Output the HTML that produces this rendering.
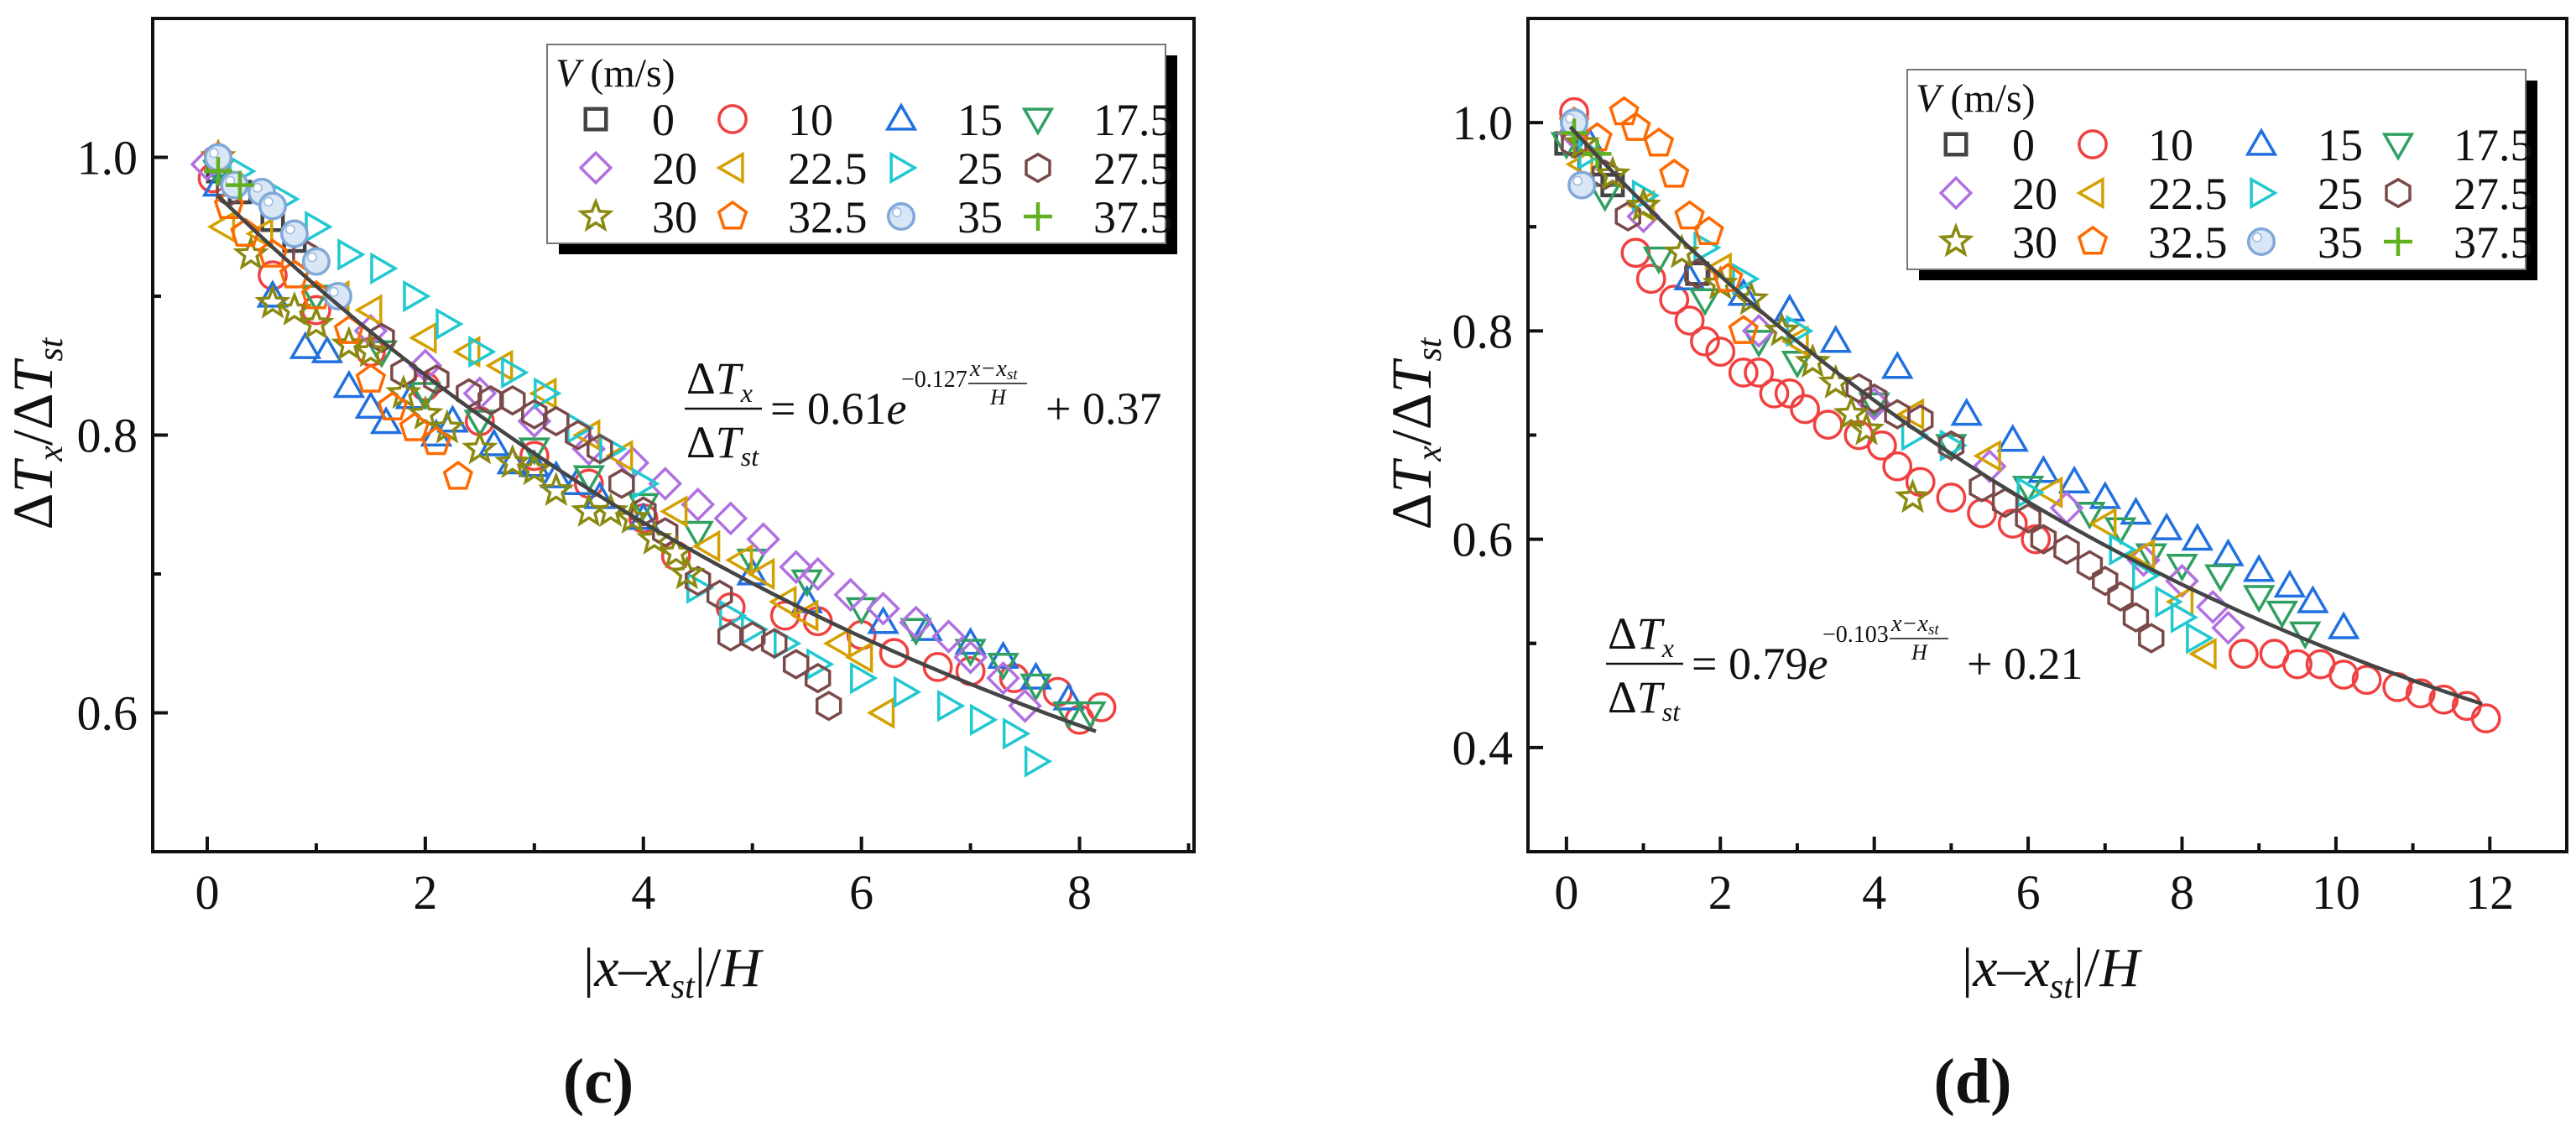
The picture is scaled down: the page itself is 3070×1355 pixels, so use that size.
<!DOCTYPE html>
<html><head><meta charset="utf-8"><style>
html,body{margin:0;padding:0;background:#fff;}
svg, svg text{font-family:"Liberation Serif","DejaVu Serif","Times New Roman",serif;}
</style></head><body>
<svg id="fig" width="3070" height="1350" viewBox="0 0 3070 1350" xmlns="http://www.w3.org/2000/svg" font-family="Liberation Serif, DejaVu Serif, serif"></svg>
<script>
// ---------- data: panel c ----------
const labelsV = ["0","10","15","17.5","20","22.5","25","27.5","30","32.5","35","37.5"];
const c_x0=[0.1,0.3,0.6,0.8], c_y0=[0.99,0.975,0.955,0.94];
const c_x10=[0.05,0.6,1.0,1.5,2.0,2.5,3.0,3.5,4.0,4.3,4.8,5.3,5.6,6.0,6.3,6.7,7.0,7.4,7.8,8.0,8.2];
const c_y10=[0.985,0.915,0.89,0.86,0.835,0.81,0.785,0.765,0.74,0.713,0.676,0.67,0.666,0.656,0.643,0.633,0.63,0.625,0.615,0.595,0.604];
const c_x15=[0.1,0.6,0.9,1.1,1.3,1.5,1.64,1.87,2.1,2.25,2.63,2.8,3.0,3.2,3.39,3.6,4.0,5.0,5.5,6.2,6.6,7.0,7.3,7.6,7.9];
const c_y15=[0.98,0.90,0.863,0.86,0.835,0.82,0.809,0.827,0.80,0.81,0.793,0.78,0.778,0.77,0.765,0.755,0.74,0.70,0.68,0.665,0.66,0.65,0.64,0.625,0.61];
const c_x17=[0.1,1.0,1.6,2.0,2.5,3,3.5,4,4.5,5,5.5,6,6.5,7,7.3,7.6,7.9,8.1];
const c_y17=[0.99,0.90,0.86,0.83,0.81,0.79,0.77,0.75,0.73,0.71,0.695,0.675,0.66,0.645,0.635,0.62,0.60,0.60];
const c_x20=[0,1.5,2,2.5,3,3.5,3.9,4.2,4.5,4.8,5.1,5.4,5.6,5.9,6.2,6.5,6.8,7.0,7.3,7.5];
const c_y20=[0.995,0.875,0.85,0.83,0.81,0.79,0.78,0.765,0.75,0.74,0.725,0.705,0.70,0.685,0.675,0.665,0.655,0.64,0.625,0.605];
const c_x22=[0.15,0.5,1.2,1.5,2.0,2.4,2.7,3.1,3.5,3.8,4.3,4.6,4.9,5.1,5.3,5.5,5.8,6.0,6.2];
const c_y22=[0.95,0.945,0.90,0.89,0.87,0.86,0.85,0.83,0.80,0.785,0.745,0.72,0.71,0.70,0.68,0.67,0.65,0.64,0.60];
const c_x25=[0.3,0.7,1.0,1.3,1.6,1.9,2.2,2.5,2.8,3.1,3.4,3.7,4.0,4.5,4.8,5.0,5.3,5.6,6.0,6.4,6.8,7.1,7.4,7.6];
const c_y25=[0.99,0.97,0.95,0.93,0.92,0.90,0.88,0.86,0.845,0.83,0.805,0.79,0.765,0.69,0.67,0.66,0.65,0.635,0.625,0.615,0.605,0.595,0.585,0.565];
const c_x27=[0.2,0.9,1.6,1.8,2.1,2.4,2.6,2.8,3.0,3.2,3.4,3.6,3.8,4.0,4.2,4.5,4.7,4.8,5.0,5.2,5.4,5.6,5.7];
const c_y27=[0.975,0.93,0.87,0.845,0.84,0.83,0.825,0.825,0.815,0.81,0.80,0.79,0.765,0.745,0.73,0.695,0.685,0.655,0.655,0.65,0.635,0.625,0.605];
const c_x30=[0.1,0.4,0.6,0.8,1.0,1.3,1.5,1.8,2.0,2.2,2.5,2.8,3.0,3.2,3.5,3.7,3.9,4.1,4.3,4.4];
const c_y30=[1.0,0.93,0.895,0.89,0.88,0.865,0.86,0.83,0.815,0.805,0.79,0.78,0.775,0.76,0.745,0.745,0.74,0.725,0.715,0.70];
const c_x32=[0.1,0.2,0.35,0.6,0.8,1.0,1.3,1.5,1.7,1.9,2.1,2.3];
const c_y32=[1.0,0.965,0.945,0.93,0.915,0.90,0.875,0.84,0.82,0.805,0.795,0.77];
const c_x35=[0.1,0.25,0.5,0.6,0.8,1.0,1.2], c_y35=[1.0,0.98,0.975,0.965,0.945,0.925,0.90];
const c_x37=[0.1,0.3], c_y37=[0.99,0.98];
const c_fit=[0.61,-0.127,0.37];
// ---------- data: panel d ----------
const d_x0=[0.0,0.3,0.6,1.7], d_y0=[0.98,0.96,0.94,0.855];
const d_x10=[0.1,0.9,1.1,1.4,1.6,1.8,2.0,2.3,2.5,2.7,2.9,3.1,3.4,3.8,4.1,4.3,4.6,5.0,5.4,5.8,6.1,8.8,9.2,9.5,9.8,10.1,10.4,10.8,11.1,11.4,11.7,11.95];
const d_y10=[1.01,0.875,0.85,0.83,0.81,0.79,0.78,0.76,0.76,0.74,0.74,0.725,0.71,0.70,0.69,0.67,0.655,0.64,0.625,0.615,0.60,0.49,0.49,0.48,0.48,0.47,0.465,0.458,0.452,0.446,0.44,0.428];
const d_x15=[0.1,0.3,1.6,2.3,2.9,3.5,4.3,5.2,5.8,6.2,6.6,7.0,7.4,7.8,8.2,8.6,9.0,9.4,9.7,10.1];
const d_y15=[1.0,0.98,0.85,0.835,0.82,0.79,0.765,0.72,0.695,0.665,0.655,0.64,0.625,0.61,0.60,0.585,0.57,0.555,0.54,0.515];
const d_x17=[0.0,0.5,1.2,1.8,2.5,3.0,4.0,5.0,6.0,6.8,7.2,7.6,8.0,8.5,9.0,9.3,9.6];
const d_y17=[0.98,0.93,0.87,0.83,0.79,0.77,0.73,0.69,0.65,0.625,0.61,0.585,0.575,0.565,0.545,0.53,0.51];
const d_x20=[0.1,1,2.5,4.0,5.5,6.5,7.5,8.0,8.4,8.6], d_y20=[0.99,0.91,0.80,0.73,0.67,0.63,0.58,0.56,0.535,0.515];
const d_x22=[0.2,1,2,3,4.5,5.5,6.3,7,7.5,8.0,8.3], d_y22=[0.96,0.92,0.86,0.79,0.72,0.68,0.645,0.615,0.585,0.54,0.49];
const d_x25=[0.3,1.0,1.8,2.3,3,4.5,5.0,6,7.2,7.5,7.8,8.0,8.2], d_y25=[0.97,0.93,0.88,0.85,0.80,0.70,0.69,0.645,0.59,0.565,0.54,0.525,0.505];
const d_x27=[0.1,0.5,0.8,1.7,3.8,4.0,4.3,4.6,5.0,5.4,5.7,6.0,6.2,6.5,6.8,7.0,7.2,7.4,7.6];
const d_y27=[0.98,0.95,0.91,0.855,0.745,0.735,0.72,0.715,0.69,0.65,0.635,0.62,0.60,0.59,0.575,0.56,0.545,0.525,0.505];
const d_x30=[0.2,0.6,1.0,1.5,2.0,2.4,2.8,3.2,3.5,3.7,3.9,4.5], d_y30=[0.98,0.95,0.92,0.875,0.845,0.83,0.80,0.77,0.75,0.72,0.705,0.64];
const d_x32=[0.1,0.4,0.75,0.9,1.2,1.4,1.6,1.85,2.1,2.3], d_y32=[1.0,0.985,1.01,0.995,0.98,0.95,0.91,0.895,0.85,0.80];
const d_x35=[0.1,0.2], d_y35=[1.0,0.94];
const d_x37=[0.1,0.4], d_y37=[0.99,0.97];
const d_fit=[0.79,-0.103,0.21];
// ticks
const c_xticks=["0","2","4","6","8"], c_yticks=["0.6","0.8","1.0"];
const d_xticks=["0","2","4","6","8","10","12"], d_yticks=["0.4","0.6","0.8","1.0"];

const NS="http://www.w3.org/2000/svg";
const svg=document.getElementById('fig');
const FF='Liberation Serif, DejaVu Serif, serif';
function mk(tag,attrs,parent){const e=document.createElementNS(NS,tag);for(const k in attrs)e.setAttribute(k,attrs[k]);if(tag==='text')e.setAttribute('font-family',FF);(parent||svg).appendChild(e);return e;}
const colors=["#444444","#f04040","#2070e0","#30a060","#b070e0","#d4a000","#20c8d0","#7a4a4a","#8a8a10","#ff6a00","#80a8d8","#60b020"];
const shapes=["square","circle","tri","tridown","diamond","trileft","triright","hex","star","pent","sphere","plus"];
function marker(g,shape,cx,cy,col,r){
  let e;
  const poly=(pts)=>mk('polygon',{points:pts.map(p=>(cx+p[0]*r).toFixed(1)+','+(cy+p[1]*r).toFixed(1)).join(' '),fill:'none',stroke:col,'stroke-width':3.5},g);
  const reg=(n,rot,rr)=>{const p=[];for(let i=0;i<n;i++){const a=rot+i*2*Math.PI/n;p.push([rr*Math.cos(a),rr*Math.sin(a)]);}return p;};
  if(shape==='square')e=mk('rect',{x:cx-r*0.72,y:cy-r*0.72,width:r*1.44,height:r*1.44,fill:'none',stroke:col,'stroke-width':4.5},g);
  else if(shape==='circle')e=mk('circle',{cx:cx,cy:cy,r:r*0.95,fill:'none',stroke:col,'stroke-width':3.5},g);
  else if(shape==='tri')e=poly(reg(3,-Math.PI/2,1.1).map(p=>[p[0],p[1]+0.15]));
  else if(shape==='tridown')e=poly(reg(3,Math.PI/2,1.1).map(p=>[p[0],p[1]-0.15]));
  else if(shape==='trileft')e=poly(reg(3,Math.PI,1.1).map(p=>[p[0]+0.15,p[1]]));
  else if(shape==='triright')e=poly(reg(3,0,1.1).map(p=>[p[0]-0.15,p[1]]));
  else if(shape==='diamond')e=poly([[0,-1.05],[1.05,0],[0,1.05],[-1.05,0]]);
  else if(shape==='hex')e=poly(reg(6,-Math.PI/2,0.95));
  else if(shape==='pent')e=poly(reg(5,-Math.PI/2,1.0));
  else if(shape==='star'){const p=[];for(let i=0;i<10;i++){const a=-Math.PI/2+i*Math.PI/5;const rr=i%2?0.45:1.05;p.push([rr*Math.cos(a),rr*Math.sin(a)]);}e=poly(p);}
  else if(shape==='sphere'){e=mk('circle',{cx:cx,cy:cy,r:r*0.9,fill:'#d8e6f6',stroke:col,'stroke-width':3.5},g);mk('circle',{cx:cx-r*0.3,cy:cy-r*0.3,r:r*0.3,fill:'#ffffff',stroke:'#9ab8e0','stroke-width':1.5},g);}
  else if(shape==='plus'){e=mk('path',{d:`M${cx-r} ${cy}H${cx+r}M${cx} ${cy-r}V${cy+r}`,stroke:col,'stroke-width':4.5,fill:'none'},g);}
  return e;
}
function panel(P){
  const g=mk('g',{});
  
  
  const X=v=>P.L+(v-P.xmin)/(P.xmax-P.xmin)*(P.R-P.L);
  const Y=v=>P.B-(v-P.ymin)/(P.ymax-P.ymin)*(P.B-P.T);
  const fr=mk('rect',{x:P.L,y:P.T,width:P.R-P.L,height:P.B-P.T,fill:'none',stroke:'#111','stroke-width':4},g);
  
  
  P.xticks.forEach((t,i)=>{const v=parseFloat(t);const x=X(v);
    mk('line',{x1:x,y1:P.B,x2:x,y2:P.B-18,stroke:'#111','stroke-width':4},g);
    const mx=X(v+P.xstep/2); if(mx<P.R-5) mk('line',{x1:mx,y1:P.B,x2:mx,y2:P.B-10,stroke:'#111','stroke-width':4},g);
    const tx=mk('text',{x:x,y:P.B+68,'font-size':58,'text-anchor':'middle',fill:'#111'},g);tx.textContent=t;
    
    });
  P.yticks.forEach((t)=>{const v=parseFloat(t);const y=Y(v);
    mk('line',{x1:P.L,y1:y,x2:P.L+18,y2:y,stroke:'#111','stroke-width':4},g);
    const my=Y(v+0.1); if(my>P.T+5) mk('line',{x1:P.L,y1:my,x2:P.L+10,y2:my,stroke:'#111','stroke-width':4},g);
    const my2=Y(v-0.1); if(my2<P.B-5) mk('line',{x1:P.L,y1:my2,x2:P.L+10,y2:my2,stroke:'#111','stroke-width':4},g);
    const tx=mk('text',{x:P.L-18,y:y+20,'font-size':58,'text-anchor':'end',fill:'#111'},g);tx.textContent=t;
    
    });
  P.series.forEach((s,i)=>{const sg=mk('g',{},g);
    
    
    s[0].forEach((xv,j)=>{const m=marker(sg,shapes[i],X(xv),Y(s[1][j]),colors[i],17);
      
      });});
  let d='';for(let k=0;k<=100;k++){const xv=P.fitX0+(P.fitX1-P.fitX0)*k/100;const yv=P.fit[0]*Math.exp(P.fit[1]*xv)+P.fit[2];d+=(k?'L':'M')+X(xv).toFixed(1)+' '+Y(yv).toFixed(1);}
  const fl=mk('path',{d:d,fill:'none',stroke:'#454545','stroke-width':4.5},g);
  
  
  const lg=mk('g',{},g);
  
  
  const [lx,ly,lw,lh]=P.leg;
  mk('rect',{x:lx+14,y:ly+13,width:lw,height:lh,fill:'#000'},lg);
  mk('rect',{x:lx,y:ly,width:lw,height:lh,fill:'#fff',stroke:'#777','stroke-width':2},lg);
  const lt=mk('text',{x:lx+10,y:ly+50,'font-size':48,fill:'#111'},lg);
  lt.innerHTML='<tspan font-style="italic">V</tspan> (m/s)';
  
  
  const colSym=[58,221,422,585], colLab=[125,287,489,651];
  labelsV.forEach((lab,i)=>{const r=Math.floor(i/4),c=i%4;const cy=ly+89+r*58;
    const m=marker(lg,shapes[i],lx+colSym[c],cy,colors[i],17);
    
    
    const t=mk('text',{x:lx+colLab[c],y:cy+19,'font-size':54,fill:'#111'},lg);t.textContent=lab;
    
    });
  const eq=mk('g',{},g);
  
  
  const [ex,ey]=P.eq;
  const t1=mk('text',{x:ex+2,y:ey-18,'font-size':54,fill:'#111'},eq);t1.innerHTML='Δ<tspan font-style="italic">T</tspan><tspan font-style="italic" font-size="32" dy="10">x</tspan>';
  mk('line',{x1:ex,y1:ey,x2:ex+92,y2:ey,stroke:'#111','stroke-width':2.5},eq);
  const t2=mk('text',{x:ex+2,y:ey+58,'font-size':54,fill:'#111'},eq);t2.innerHTML='Δ<tspan font-style="italic">T</tspan><tspan font-style="italic" font-size="32" dy="10">st</tspan>';
  const t3=mk('text',{x:ex+102,y:ey+18,'font-size':54,fill:'#111'},eq);t3.innerHTML='= '+P.eqA+'<tspan font-style="italic">e</tspan>';
  const t4=mk('text',{x:ex+258,y:ey-26,'font-size':28,fill:'#111'},eq);t4.textContent=P.eqB;
  const t5=mk('text',{x:ex+340,y:ey-39,'font-size':28,'font-style':'italic',fill:'#111'},eq);t5.textContent='x−x';
  const t5b=mk('text',{x:ex+384,y:ey-35,'font-size':19,'font-style':'italic',fill:'#111'},eq);t5b.textContent='st';
  mk('line',{x1:ex+338,y1:ey-30,x2:ex+408,y2:ey-30,stroke:'#111','stroke-width':1.5},eq);
  const t6=mk('text',{x:ex+364,y:ey-5,'font-size':26,'font-style':'italic',fill:'#111'},eq);t6.textContent='H';
  const t7=mk('text',{x:ex+430,y:ey+18,'font-size':54,fill:'#111'},eq);t7.textContent='+ '+P.eqC;
  const xt=mk('text',{x:P.xtX,y:1175,'font-size':66,'text-anchor':'middle',fill:'#111'},g);
  xt.innerHTML='|<tspan font-style="italic">x</tspan>–<tspan font-style="italic">x</tspan><tspan font-style="italic" font-size="42" dy="14">st</tspan><tspan dy="-14">|/</tspan><tspan font-style="italic">H</tspan>';
  
  
  const yt=mk('text',{x:0,y:0,'font-size':68,'text-anchor':'middle',fill:'#111',transform:`translate(${P.ytX},517) rotate(-90)`},g);
  yt.innerHTML='Δ<tspan font-style="italic">T</tspan><tspan font-style="italic" font-size="42" dy="12">x</tspan><tspan dy="-12">/Δ</tspan><tspan font-style="italic">T</tspan><tspan font-style="italic" font-size="42" dy="12">st</tspan>';
  
  
  const pl=mk('text',{x:P.plX,y:1314,'font-size':76,'text-anchor':'middle','font-weight':'bold',fill:'#111'},g);
  pl.textContent=P.plabel;
  
  
}
panel({name:'panel-c',L:182,R:1423,T:22,B:1015,xmin:-0.5,xmax:9.05,ymin:0.5,ymax:1.1,xstep:2,
  xticks:c_xticks,yticks:c_yticks,fit:c_fit,fitX0:0.1,fitX1:8.15,
  series:[[c_x0,c_y0],[c_x10,c_y10],[c_x15,c_y15],[c_x17,c_y17],[c_x20,c_y20],[c_x22,c_y22],[c_x25,c_y25],[c_x27,c_y27],[c_x30,c_y30],[c_x32,c_y32],[c_x35,c_y35],[c_x37,c_y37]],
  leg:[652,53,737,237],eq:[816,487],eqA:'0.61',eqB:'−0.127',eqC:'0.37',xtX:801,ytX:62,plX:713,plabel:'(c)'});
panel({name:'panel-d',L:1821,R:3059,T:22,B:1015,xmin:-0.5,xmax:13,ymin:0.3,ymax:1.1,xstep:2,
  xticks:d_xticks,yticks:d_yticks,fit:d_fit,fitX0:0.05,fitX1:11.9,
  series:[[d_x0,d_y0],[d_x10,d_y10],[d_x15,d_y15],[d_x17,d_y17],[d_x20,d_y20],[d_x22,d_y22],[d_x25,d_y25],[d_x27,d_y27],[d_x30,d_y30],[d_x32,d_y32],[d_x35,d_y35],[d_x37,d_y37]],
  leg:[2273,83,737,238],eq:[1914,791],eqA:'0.79',eqB:'−0.103',eqC:'0.21',xtX:2444,ytX:1705,plX:2351,plabel:'(d)'});
</script>
</body></html>
